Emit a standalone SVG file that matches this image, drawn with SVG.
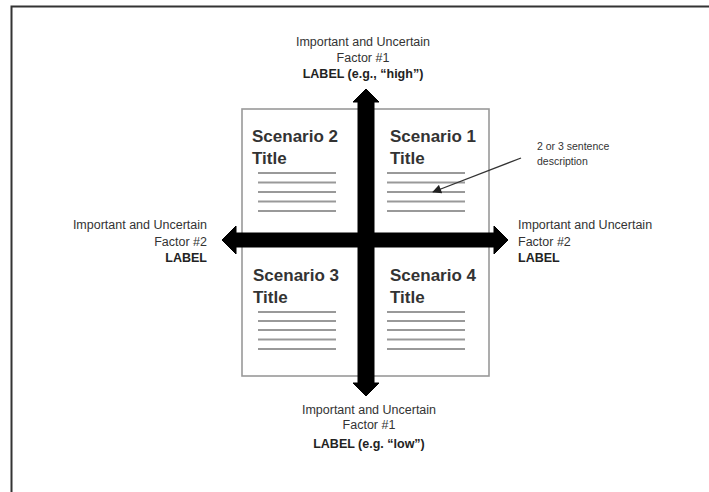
<svg xmlns="http://www.w3.org/2000/svg" width="709" height="492" viewBox="0 0 709 492">
<defs>
<style>
.lbl{font-family:"Liberation Sans",Arial,sans-serif;font-size:12.5px;fill:#333}
.b{font-weight:bold;fill:#222}
.ttl{font-family:"Liberation Sans",Arial,sans-serif;font-size:17px;font-weight:bold;fill:#333}
.ln{stroke:#999;stroke-width:2}
.note{font-family:"Liberation Sans",Arial,sans-serif;font-size:10.5px;fill:#333}
</style>
<marker id="ah" viewBox="0 0 10 10" refX="9" refY="5" markerWidth="10" markerHeight="9" orient="auto" markerUnits="userSpaceOnUse">
<path d="M0,0 L10,5 L0,10 z" fill="#222"/>
</marker>
</defs>
<rect width="709" height="492" fill="#fff"/>
<rect x="11.5" y="6.5" width="720" height="520" fill="none" stroke="#333" stroke-width="2"/>
<g id="quadrant-box">
<rect x="242" y="109" width="247" height="267" fill="#fff" stroke="#999" stroke-width="1.6"/>
</g>
<g id="scenario2">
<text class="ttl" x="252" y="142">Scenario 2</text>
<text class="ttl" x="252" y="164">Title</text>
<g class="ln"><line x1="258" y1="173" x2="336" y2="173"/><line x1="258" y1="182.5" x2="336" y2="182.5"/><line x1="258" y1="192" x2="336" y2="192"/><line x1="258" y1="201.5" x2="336" y2="201.5"/><line x1="258" y1="211" x2="336" y2="211"/></g>
</g>
<g id="scenario1">
<text class="ttl" x="390" y="142">Scenario 1</text>
<text class="ttl" x="390" y="164">Title</text>
<g class="ln"><line x1="387" y1="173" x2="465" y2="173"/><line x1="387" y1="182.5" x2="465" y2="182.5"/><line x1="387" y1="192" x2="465" y2="192"/><line x1="387" y1="201.5" x2="465" y2="201.5"/><line x1="387" y1="211" x2="465" y2="211"/></g>
</g>
<g id="scenario3">
<text class="ttl" x="253" y="281">Scenario 3</text>
<text class="ttl" x="253" y="303">Title</text>
<g class="ln"><line x1="258" y1="312" x2="336" y2="312"/><line x1="258" y1="321" x2="336" y2="321"/><line x1="258" y1="330" x2="336" y2="330"/><line x1="258" y1="339.5" x2="336" y2="339.5"/><line x1="258" y1="349" x2="336" y2="349"/></g>
</g>
<g id="scenario4">
<text class="ttl" x="390" y="281">Scenario 4</text>
<text class="ttl" x="390" y="303">Title</text>
<g class="ln"><line x1="387" y1="312" x2="465" y2="312"/><line x1="387" y1="321" x2="465" y2="321"/><line x1="387" y1="330" x2="465" y2="330"/><line x1="387" y1="339.5" x2="465" y2="339.5"/><line x1="387" y1="349" x2="465" y2="349"/></g>
</g>
<g id="connectors">
<path id="axis-v" d="M366,89 L379,102 L374,102 L374,383 L379,383 L366,396 L353,383 L358,383 L358,102 L353,102 Z" fill="#000" stroke="#000" stroke-width="1" stroke-linejoin="round"/>
<path id="axis-h" d="M222,240 L236,226 L236,233 L494,233 L494,226 L508,240 L494,254 L494,247 L236,247 L236,254 Z" fill="#000" stroke="#000" stroke-width="1" stroke-linejoin="round"/>
<line id="pointer" x1="521" y1="158" x2="433" y2="192" stroke="#333" stroke-width="1.3" marker-end="url(#ah)"/>
</g>
<g id="label-top">
<text class="lbl" x="363" y="46" text-anchor="middle">Important and Uncertain</text>
<text class="lbl" x="363" y="62" text-anchor="middle">Factor #1</text>
<text class="lbl b" x="363" y="78" text-anchor="middle">LABEL (e.g., “high”)</text>
</g>
<g id="label-bottom">
<text class="lbl" x="369" y="414" text-anchor="middle">Important and Uncertain</text>
<text class="lbl" x="369" y="429" text-anchor="middle">Factor #1</text>
<text class="lbl b" x="369" y="448" text-anchor="middle">LABEL (e.g. “low”)</text>
</g>
<g id="label-left">
<text class="lbl" x="207" y="229" text-anchor="end">Important and Uncertain</text>
<text class="lbl" x="207" y="246" text-anchor="end">Factor #2</text>
<text class="lbl b" x="207" y="262" text-anchor="end">LABEL</text>
</g>
<g id="label-right">
<text class="lbl" x="518" y="229">Important and Uncertain</text>
<text class="lbl" x="518" y="246">Factor #2</text>
<text class="lbl b" x="518" y="262">LABEL</text>
</g>
<g id="note">
<text class="note" x="537" y="150">2 or 3 sentence</text>
<text class="note" x="537" y="165">description</text>
</g>
</svg>
